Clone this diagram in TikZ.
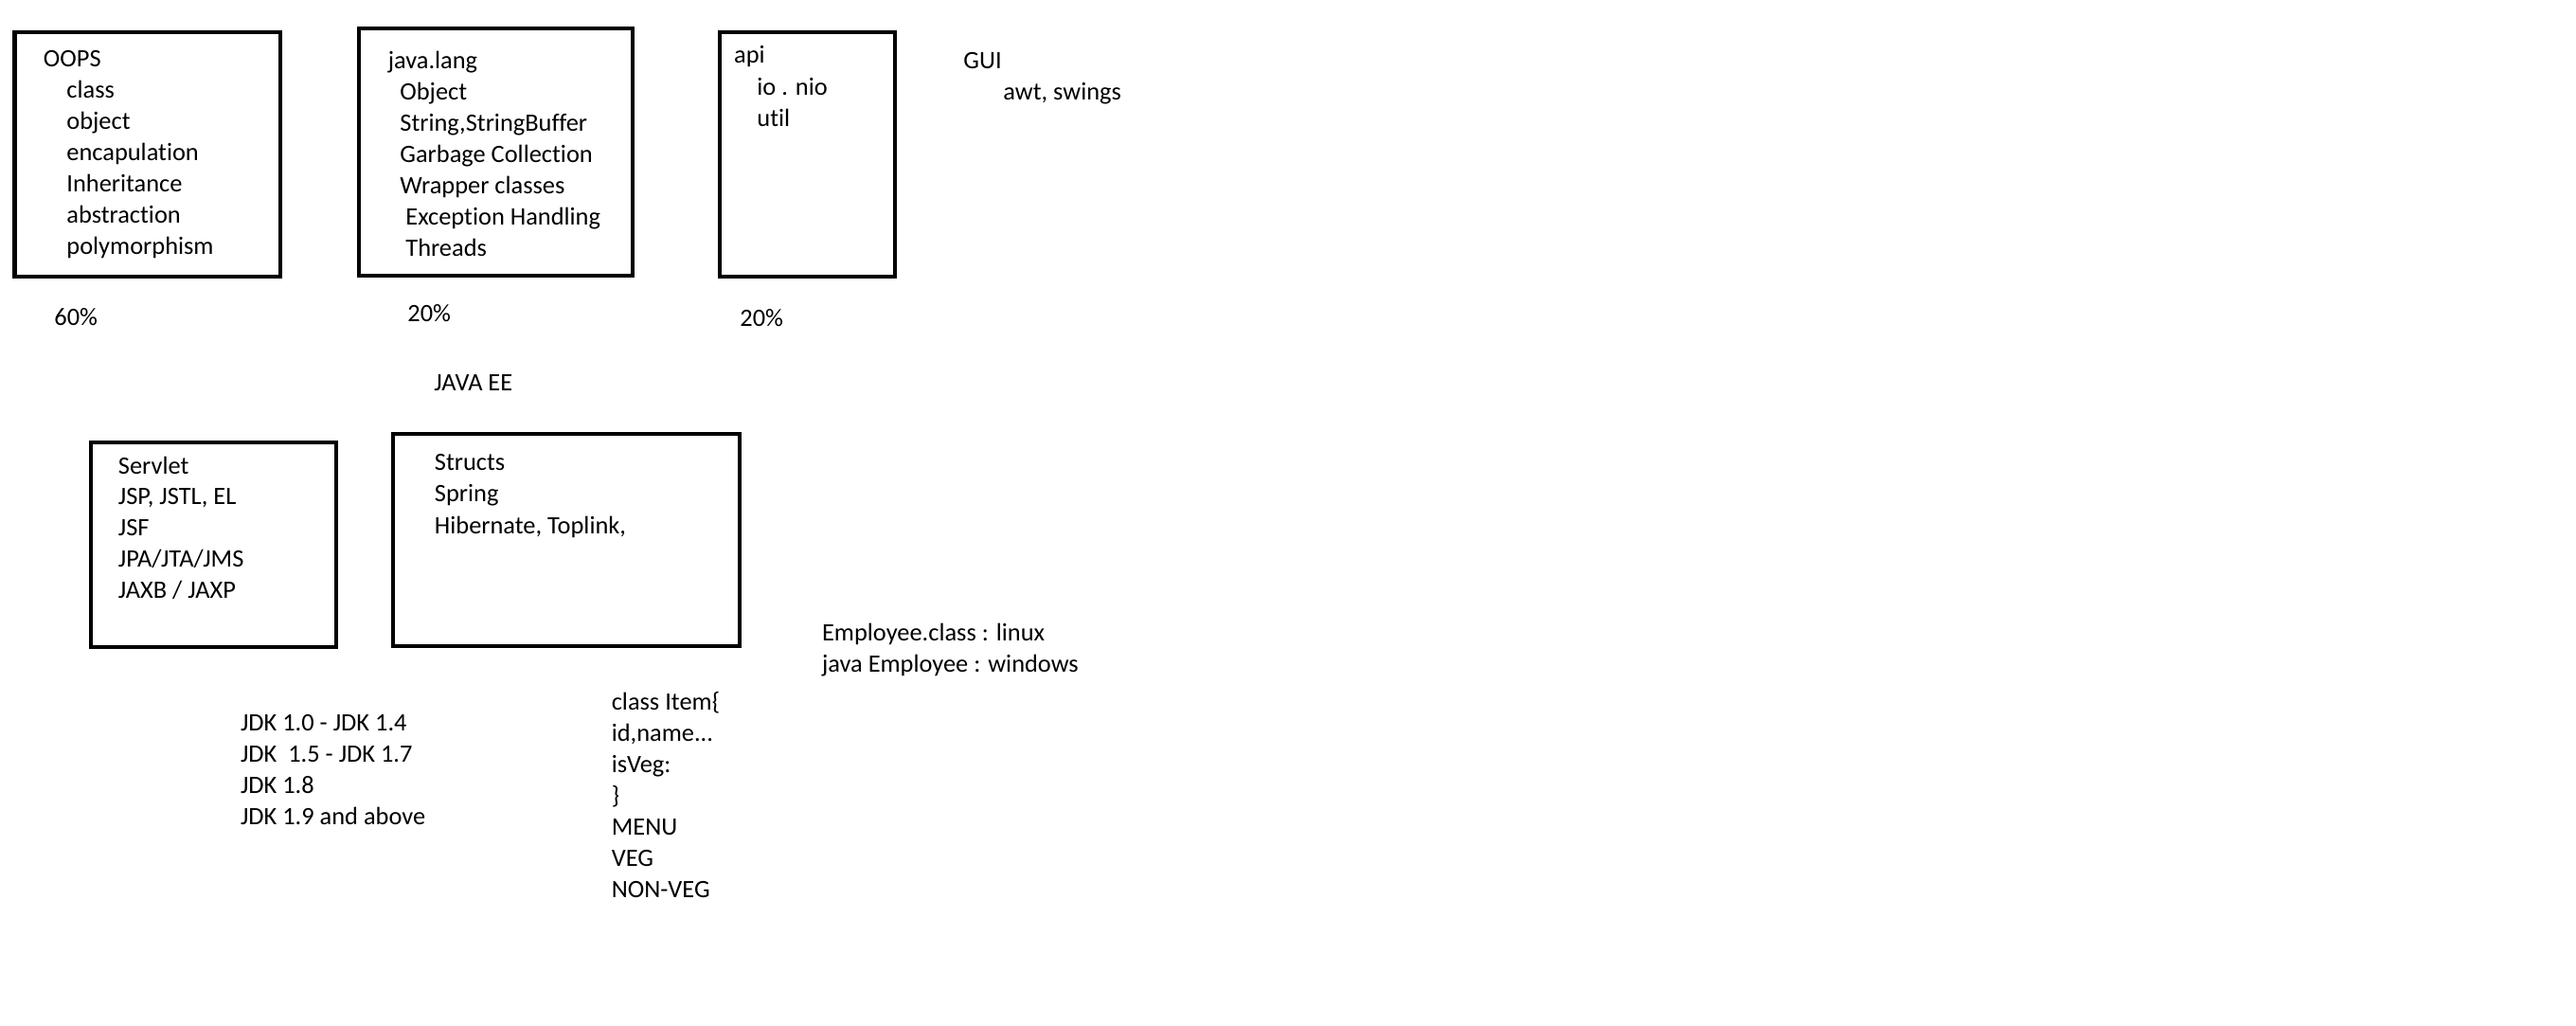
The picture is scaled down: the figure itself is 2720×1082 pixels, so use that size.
\documentclass[tikz,border=0pt]{standalone}
\usepackage{fontspec}
\setmainfont{Carlito}[Ligatures=NoCommon]
\begin{document}
\begin{tikzpicture}[x=0.5pt,y=-0.5pt,
  box/.style={draw=black,line width=2.2pt},
  txt/.style={anchor=base west,inner sep=0pt,font=\fontsize{13.2}{16}\selectfont,text=black}]
\useasboundingbox[fill=white] (0,0) rectangle (2720,1082);
% boxes
\draw[box] (15.6,34.2) rectangle (295.8,291.8);
\draw[box] (379,30) rectangle (668,291);
\draw[box] (760,34) rectangle (945,292);
\draw[box] (96,467) rectangle (355,683);
\draw[box] (415,458) rectangle (781,682);
\begin{scope}[yshift=-0.85pt]
% OOPS block
\node[txt] (oops0) at (45.5,68.3) {OOPS};
\node[txt] (oops1) at (70,101.4) {class};
\node[txt] (oops2) at (70,134.5) {object};
\node[txt] (oops3) at (70,167.5) {encapulation};
\node[txt] (oops4) at (70,200.6) {Inheritance};
\node[txt] (oops5) at (70,233.6) {abstraction};
\node[txt] (oops6) at (70,266.7) {polymorphism};
\node[txt] (p60) at (57,341.7) {60\%};
% java.lang block
\node[txt] (lang0) at (409.4,71) {java.lang};
\node[txt] (lang1) at (422,104) {Object};
\node[txt] (lang2) at (422,137) {String,StringBuffer};
\node[txt] (lang3) at (422,170) {Garbage Collection};
\node[txt] (lang4) at (422,203) {Wrapper classes};
\node[txt] (lang5) at (428,236) {Exception Handling};
\node[txt] (lang6) at (428,269) {Threads};
\node[txt] (p20a) at (430,338) {20\%};
% api block
\node[txt] (api0) at (774.7,65) {api};
\node[txt] (api1) at (799,98.5) {io . nio};
\node[txt] (api2) at (799,131.7) {util};
\node[txt] (p20b) at (781,343) {20\%};
% GUI
\node[txt] (gui0) at (1017,70.7) {GUI};
\node[txt] (gui1) at (1059,103.5) {awt, swings};
% JAVA EE
\node[txt] (javaee) at (458,410.7) {JAVA EE};
\node[txt] (ee0) at (124.5,498.3) {Servlet};
\node[txt] (ee1) at (124.5,531) {JSP, JSTL, EL};
\node[txt] (ee2) at (124.5,564) {JSF};
\node[txt] (ee3) at (124.5,597) {JPA/JTA/JMS};
\node[txt] (ee4) at (124.5,630) {JAXB / JAXP};
\node[txt] (fw0) at (458.5,495) {Structs};
\node[txt] (fw1) at (458.5,528) {Spring};
\node[txt] (fw2) at (458.5,561.5) {Hibernate, Toplink,};
% Employee
\node[txt] (emp0) at (867.7,674.3) {Employee.class : linux};
\node[txt] (emp1) at (867.7,707.3) {java Employee : windows};
% JDK
\node[txt] (jdk0) at (253.6,769.3) {JDK 1.0 - JDK 1.4};
\node[txt] (jdk1) at (253.6,802.3) {JDK\ \ 1.5 - JDK 1.7};
\node[txt] (jdk2) at (253.6,835.3) {JDK 1.8};
\node[txt] (jdk3) at (253.6,868.3) {JDK 1.9 and above};
% class Item
\node[txt] (item0) at (645.4,747.7) {class Item\{};
\node[txt] (item1) at (645.4,780.7) {id,name...};
\node[txt] (item2) at (645.4,813.5) {isVeg:};
\node[txt] (item3) at (645.4,846.5) {\}};
\node[txt] (item4) at (645.4,879.5) {MENU};
\node[txt] (item5) at (645.4,912.5) {VEG};
\node[txt] (item6) at (645.4,945.7) {NON-VEG};
\end{scope}
\end{tikzpicture}
\end{document}
